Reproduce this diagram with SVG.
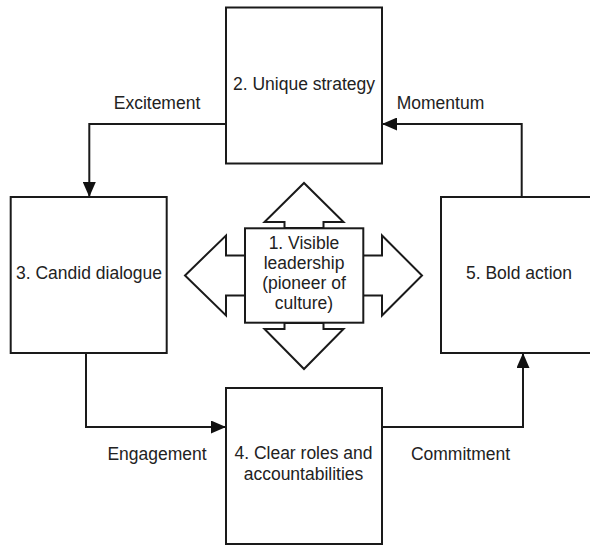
<svg xmlns="http://www.w3.org/2000/svg" width="590" height="545" viewBox="0 0 590 545">
<defs>
<marker id="ah" markerUnits="userSpaceOnUse" markerWidth="15" markerHeight="13" refX="15" refY="6.5" orient="auto">
<path d="M0,0 L15,6.5 L0,13 z" fill="#111"/>
</marker>
<style>
.box{fill:#fff;stroke:#1a1a1a;stroke-width:2}
.blk{fill:#fff;stroke:#1a1a1a;stroke-width:2;stroke-linejoin:miter}
.con{fill:none;stroke:#1a1a1a;stroke-width:2}
text{font-family:"Liberation Sans",Arial,sans-serif;font-size:17.5px;fill:#222;text-anchor:middle}
</style>
</defs>
<rect width="590" height="545" fill="#fff"/>
<g id="connectors">
<path class="con" d="M226,124 H89.3 V197" marker-end="url(#ah)"/>
<path class="con" d="M521.7,197 V124 H382" marker-end="url(#ah)"/>
<path class="con" d="M86,353 V427 H226" marker-end="url(#ah)"/>
<path class="con" d="M382,427 H523 V353" marker-end="url(#ah)"/>
<text x="157" y="109">Excitement</text>
<text x="440.5" y="109">Momentum</text>
<text x="157" y="460">Engagement</text>
<text x="460.5" y="460">Commitment</text>
</g>
<g id="node2">
<rect class="box" x="226" y="7.5" width="156" height="156"/>
<text x="304" y="90">2. Unique strategy</text>
</g>
<g id="node3">
<rect class="box" x="10.7" y="197" width="156" height="156"/>
<text x="89" y="279.3">3. Candid dialogue</text>
</g>
<g id="node5">
<rect class="box" x="441" y="197" width="156" height="156"/>
<text x="519" y="279">5. Bold action</text>
</g>
<g id="node4">
<rect class="box" x="226" y="388" width="156" height="156"/>
<text x="303.5" y="459.3">4. Clear roles and</text>
<text x="303.5" y="480">accountabilities</text>
</g>
<g id="node1">
<polygon class="blk" points="284.5,228 284.5,222 264.5,222 304,183 343.5,222 323.5,222 323.5,228"/>
<polygon class="blk" points="284.5,323 284.5,329 264.5,329 304,369 343.5,329 323.5,329 323.5,323"/>
<polygon class="blk" points="363,255.5 382,255.5 382,235.5 422,275.5 382,315.5 382,295.5 363,295.5"/>
<polygon class="blk" points="245,255.5 226,255.5 226,235.5 185,275.5 226,315.5 226,295.5 245,295.5"/>
<rect class="box" x="245" y="228.3" width="118.3" height="94.4"/>
<text x="304" y="248.5">1. Visible</text>
<text x="304" y="269">leadership</text>
<text x="304" y="289">(pioneer of</text>
<text x="304" y="309">culture)</text>
</g>
</svg>
